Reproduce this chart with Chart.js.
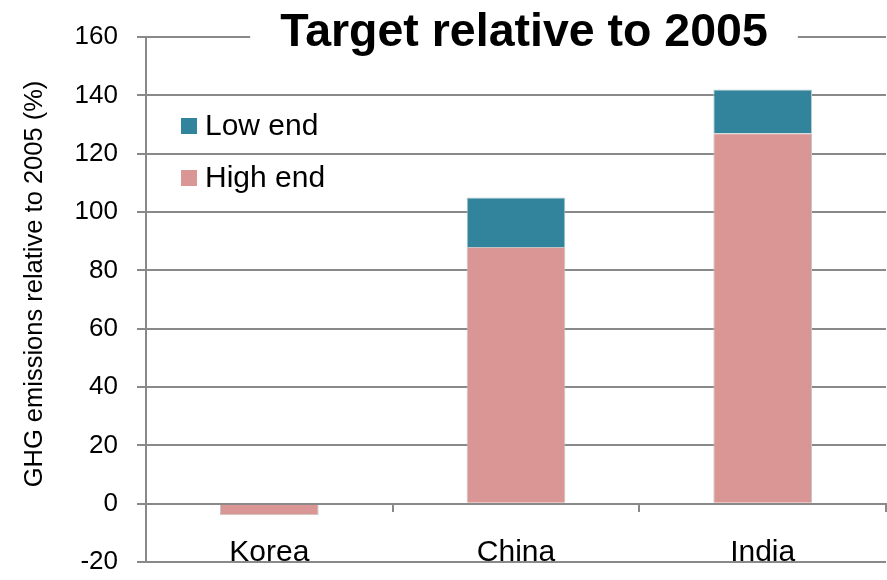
<!DOCTYPE html>
<html>
<head>
<meta charset="utf-8">
<title>Target relative to 2005</title>
<script src="https://cdn.jsdelivr.net/npm/chart.js@4.4.0/dist/chart.umd.min.js"></script>
<style>
  html, body { margin: 0; padding: 0; background: #fff; }
  #chartBox { width: 887px; height: 580px; }
</style>
</head>
<body>
<div id="chartBox"><canvas id="metaChart" width="887" height="580"></canvas></div>
<script>
// ========== DATA ==========
const paises = ['Korea', 'China', 'India'];
const highEnd = [-4, 88, 127];      // high end of the target (% of 2005)
const lowEnd = [null, 17, 15];      // extra range on top of the high end
const eixoMin = -20;
const eixoMax = 160;
const eixoPasso = 20;
const titulo = 'Target relative to 2005';
const tituloEixoY = 'GHG emissions relative to 2005 (%)';

const FONTE = '"Liberation Sans", Arial, sans-serif';
const CINZA = '#898989';

// ========== PLUGINS ==========
// legend drawn inside the plot, top left
const legendaInterna = {
    id: 'legendaInterna',
    afterDraw(chart) {
        const ctx = chart.ctx;
        const itens = chart.data.datasets.slice().reverse();
        ctx.save();
        ctx.font = '30px ' + FONTE;
        ctx.textBaseline = 'middle';
        ctx.textAlign = 'left';
        itens.forEach((ds, i) => {
            const y = 126 + i * 52;
            ctx.fillStyle = ds.backgroundColor;
            ctx.fillRect(181, y - 8, 16, 16);
            ctx.fillStyle = '#000';
            ctx.fillText(ds.label, 205, y + 1);
        });
        ctx.restore();
    }
};

// rotated y axis title, a bit above the middle of the axis
const tituloEixo = {
    id: 'tituloEixo',
    afterDraw(chart) {
        const ctx = chart.ctx;
        ctx.save();
        ctx.translate(35, 284);
        ctx.rotate(-Math.PI / 2);
        ctx.font = '25.5px ' + FONTE;
        ctx.fillStyle = '#000';
        ctx.textAlign = 'center';
        ctx.textBaseline = 'middle';
        ctx.fillText(tituloEixoY, 0, 0);
        ctx.restore();
    }
};

// title sits on top of the 160 grid line, with a white box behind it
const tituloSobreGrade = {
    id: 'tituloSobreGrade',
    afterDraw(chart) {
        const ctx = chart.ctx;
        ctx.save();
        ctx.font = 'bold 46.5px ' + FONTE;
        const w = ctx.measureText(titulo).width;
        const cx = 524;
        ctx.fillStyle = '#fff';
        ctx.fillRect(cx - w / 2 - 30, 20, w + 60, 30);
        ctx.fillStyle = '#000';
        ctx.textAlign = 'center';
        ctx.textBaseline = 'alphabetic';
        ctx.fillText(titulo, cx, 46);
        ctx.restore();
    }
};

// ========== CHART ==========
const ctxMeta = document.getElementById('metaChart').getContext('2d');
const metaChart = new Chart(ctxMeta, {
    type: 'bar',
    data: {
        labels: paises,
        datasets: [{
            label: 'High end',
            data: highEnd,
            backgroundColor: '#D99694',
            borderColor: '#c4c4c4',
            borderWidth: 1
        }, {
            label: 'Low end',
            data: lowEnd,
            backgroundColor: '#31849B',
            borderColor: '#b9c9ce',
            borderWidth: 1
        }]
    },
    options: {
        responsive: false,
        animation: false,
        categoryPercentage: 1,
        barPercentage: 0.4,
        layout: { padding: { top: 37, right: 1, bottom: 18, left: 0 } },
        plugins: {
            legend: { display: false },
            title: { display: false },
            tooltip: { enabled: false }
        },
        scales: {
            x: {
                stacked: true,
                // category axis runs along the zero line
                position: { y: 0 },
                grid: {
                    offset: true,
                    drawOnChartArea: false,
                    drawTicks: true,
                    tickLength: 7,
                    color: CINZA,
                    lineWidth: 2
                },
                border: { color: CINZA, width: 2 },
                ticks: {
                    color: '#000',
                    font: { size: 30, family: FONTE },
                    padding: 24,
                    maxRotation: 0,
                    minRotation: 0
                },
                afterFit(scale) { scale.height = 0; }
            },
            y: {
                stacked: true,
                min: eixoMin,
                max: eixoMax,
                ticks: {
                    stepSize: eixoPasso,
                    color: '#000',
                    font: { size: 26, family: FONTE },
                    padding: 19
                },
                grid: {
                    color: CINZA,
                    lineWidth: 2,
                    tickLength: 9
                },
                border: { color: CINZA, width: 2 },
                afterFit(scale) {
                    scale.width = 146;
                    // the layout padding already leaves room for the end labels
                    scale.paddingTop = 0;
                    scale.paddingBottom = 0;
                }
            }
        }
    },
    plugins: [legendaInterna, tituloEixo, tituloSobreGrade]
});
</script>
</body>
</html>
